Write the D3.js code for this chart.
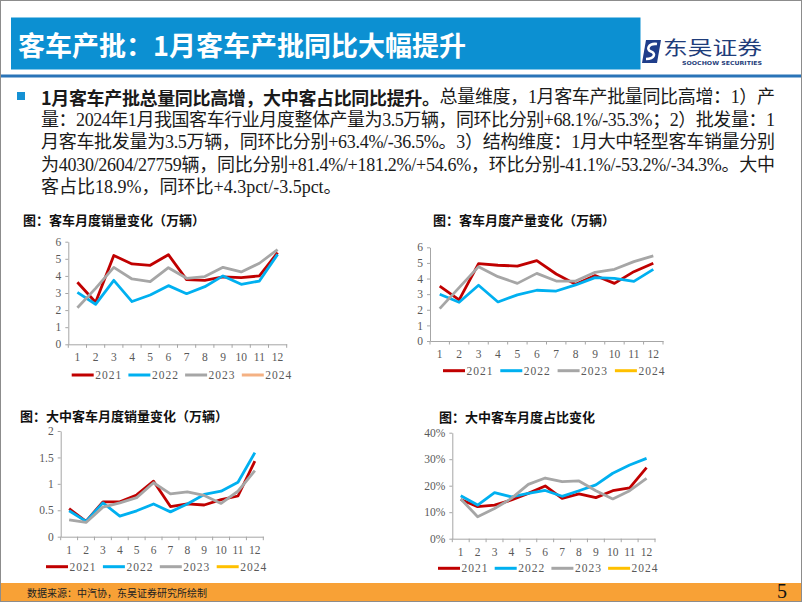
<!DOCTYPE html>
<html><head><meta charset="utf-8">
<script src="https://cdn.jsdelivr.net/npm/d3@7"></script>
<style>body{margin:0;background:#fff}svg{display:block}</style>
</head><body>
<svg id="c" width="802" height="602"></svg>
<script>
// ---------- data ----------
const months = ["1","2","3","4","5","6","7","8","9","10","11","12"];
const years = ["2021","2022","2023","2024"];

const sales2021 = [3.63,2.46,5.19,4.70,4.62,5.24,3.78,3.74,3.94,3.90,4.00,5.36];
const sales2022 = [3.04,2.34,3.74,2.50,2.88,3.43,2.96,3.37,4.00,3.51,3.70,5.26];
const sales2023 = [2.14,3.27,4.50,3.82,3.66,4.48,3.86,3.96,4.50,4.23,4.74,5.54];
const sales2024 = [3.5];

const prod2021 = [3.52,2.63,4.95,4.85,4.80,5.15,4.29,3.63,4.19,3.69,4.44,4.98];
const prod2022 = [2.99,2.48,3.57,2.50,2.95,3.25,3.20,3.59,4.06,4.01,3.82,4.59];
const prod2023 = [2.07,3.42,4.76,4.12,3.69,4.33,3.84,3.84,4.40,4.59,5.08,5.45];
const prod2024 = [3.5];

const lm2021 = [0.53,0.29,0.66,0.66,0.79,1.05,0.57,0.62,0.60,0.70,0.77,1.43];
const lm2022 = [0.49,0.29,0.64,0.39,0.49,0.62,0.47,0.62,0.80,0.86,1.03,1.59];
const lm2023 = [0.32,0.27,0.56,0.64,0.74,1.02,0.81,0.85,0.78,0.63,0.86,1.25];
const lm2024 = [0.66];

const share2021 = [14.8,12.1,12.7,14.6,17.1,19.9,15.2,16.9,15.5,18.1,19.2,26.8];
const share2022 = [16.2,12.7,17.4,15.8,17.1,18.2,16.0,18.1,20.3,24.7,27.8,30.3];
const share2023 = [15.0,8.3,11.4,15.2,20.5,22.9,21.5,21.8,18.1,15.0,18.1,22.8];
const share2024 = [18.9];

const ticksVol = [0,1,2,3,4,5,6];
const ticksLM = [0,0.5,1,1.5,2];
const ticksShare = [0,10,20,30,40];

const pageTitle = "客车产批：1月客车产批同比大幅提升";
const paraLines = [
  [["1月客车产批总量同比高增，大中客占比同比提升。", true], ["总量维度，1月客车产批量同比高增：1）产", false]],
  [["量：2024年1月我国客车行业月度整体产量为3.5万辆，同环比分别+68.1%/-35.3%；2）批发量：1", false]],
  [["月客车批发量为3.5万辆，同环比分别+63.4%/-36.5%。3）结构维度：1月大中轻型客车销量分别", false]],
  [["为4030/2604/27759辆，同比分别+81.4%/+181.2%/+54.6%，环比分别-41.1%/-53.2%/-34.3%。大中", false]],
  [["客占比18.9%，同环比+4.3pct/-3.5pct。", false]]
];
const source = "数据来源：中汽协，东吴证券研究所绘制";

// ---------- drawing ----------
const svg = d3.select("#c");
const CJK = "'Noto Sans CJK SC', sans-serif";
const MIX = "'Liberation Serif', 'Noto Sans CJK SC', serif";
const SERIF = "'Liberation Serif', 'Times New Roman', serif";

// frame
svg.append("rect").attr("x",0.5).attr("y",0.5).attr("width",801).attr("height",601)
  .attr("fill","#fff").attr("stroke","#8c8c8c").attr("stroke-width",1);

// header banner
svg.append("rect").attr("x",11).attr("y",17.5).attr("width",629.5).attr("height",52).attr("fill","#0c90d2");
svg.append("text").attr("x",18).attr("y",44).attr("dominant-baseline","central")
  .attr("font-family",CJK).attr("font-weight","bold").attr("font-size",27).attr("fill","#fff")
  .text(pageTitle);
svg.append("rect").attr("x",1).attr("y",74.5).attr("width",800).attr("height",3).attr("fill","#2a74b8");

// logo
const logo = svg.append("g");
logo.append("path").attr("d","M646,40 L661,40 L657,63 L642,63 Z").attr("fill","#1f3d8a");
logo.append("path").attr("d","M657,44 C648,43 646,50 651,51.5 C656,53 655,59 646,59")
  .attr("fill","none").attr("stroke","#fff").attr("stroke-width",2.6);
logo.append("text").attr("x",663).attr("y",46).attr("dominant-baseline","central")
  .attr("font-family",CJK).attr("font-size",19).attr("fill","#1f3d7a")
  .attr("textLength",99).attr("lengthAdjust","spacingAndGlyphs").text("东吴证券");
logo.append("text").attr("x",682).attr("y",62.5).attr("dominant-baseline","central")
  .attr("font-family","'DejaVu Sans', sans-serif").attr("font-weight","bold").attr("font-size",5.5)
  .attr("fill","#1f3d7a").attr("textLength",80).attr("lengthAdjust","spacingAndGlyphs")
  .text("SOOCHOW SECURITIES");

// bullet + paragraph
svg.append("rect").attr("x",17).attr("y",92).attr("width",8).attr("height",8).attr("fill","#1591d4");
const lineYs = [97, 119.5, 142, 164.5, 187];
paraLines.forEach((segs,i)=>{
  const t = svg.append("text").attr("x",41).attr("y",lineYs[i]).attr("dominant-baseline","central")
    .attr("font-family",MIX).attr("font-size",18).attr("fill","#1a1a1a");
  if (i < 4) t.attr("textLength",734).attr("lengthAdjust","spacing");
  segs.forEach(([s,b])=>{
    t.append("tspan").attr("font-weight",b?"bold":"normal")
     .attr("font-family", b ? CJK : MIX).text(s);
  });
});

const seriesColors = ["#c00000","#00b0f0","#a6a6a6","#ffc000"];

function drawChart(cfg){
  const g = svg.append("g");
  g.append("text").attr("x",cfg.tx).attr("y",cfg.ty).attr("dominant-baseline","central")
    .attr("font-family",CJK).attr("font-weight","bold").attr("font-size",13).attr("fill","#111")
    .text(cfg.title);
  const x = d3.scaleBand().domain(months).range([cfg.x0,cfg.x1]).padding(0);
  const y = d3.scaleLinear().domain([0,cfg.ymax]).range([cfg.yBot,cfg.yTop]);

  // y axis
  const ya = g.append("g").attr("transform",`translate(${cfg.x0},0)`)
    .call(d3.axisLeft(y).tickValues(cfg.ticks).tickSize(3).tickSizeOuter(0).tickPadding(4).tickFormat(cfg.fmt));
  ya.select(".domain").attr("stroke","#a6a6a6");
  ya.selectAll(".tick line").attr("stroke","#a6a6a6");
  ya.selectAll("text").attr("font-family",SERIF).attr("font-size",11.5).attr("fill","#595959");

  // x axis
  const xa = g.append("g").attr("transform",`translate(0,${cfg.yBot})`)
    .call(d3.axisBottom(x).tickSize(0).tickSizeOuter(0).tickPadding(cfg.labelY-cfg.yBot-4));
  xa.select(".domain").attr("stroke","#a6a6a6");
  xa.selectAll("text").attr("font-family",SERIF).attr("font-size",11.5).attr("fill","#595959");
  const bounds = months.map(m=>x(m)).concat([cfg.x1]);
  g.selectAll(".xt").data(bounds).enter().append("line")
    .attr("x1",d=>d).attr("x2",d=>d).attr("y1",cfg.yBot).attr("y2",cfg.yBot+3.5)
    .attr("stroke","#a6a6a6");

  // lines
  const line = d3.line().x((d,i)=>x(months[i])+x.bandwidth()/2).y(d=>y(d));
  const cols = seriesColors.slice(); cols[3] = cfg.c2024;
  cfg.series.forEach((s,i)=>{
    g.append("path").datum(s).attr("d",line).attr("fill","none")
      .attr("stroke",cols[i]).attr("stroke-width",2.8).attr("stroke-linejoin","round");
  });

  // legend
  years.forEach((yr,i)=>{
    const lx = cfg.lx + i*cfg.lstep;
    g.append("line").attr("x1",lx).attr("x2",lx+22).attr("y1",cfg.legendY).attr("y2",cfg.legendY)
      .attr("stroke",cols[i]).attr("stroke-width",3);
    g.append("text").attr("x",lx+23.5).attr("y",cfg.legendY).attr("dominant-baseline","central")
      .attr("font-family",SERIF).attr("font-size",11.5).attr("letter-spacing",1).attr("fill","#595959")
      .text(yr);
  });
}

drawChart({title:"图：客车月度销量变化（万辆）", tx:23, ty:219.5,
  x0:68.3, x1:286.7, yTop:241.7, yBot:344.3, ymax:6, ticks:ticksVol, fmt:d3.format("d"),
  series:[sales2021,sales2022,sales2023,sales2024], c2024:"#f4b183",
  labelY:357, legendY:375, lx:71.7, lstep:56.7});

drawChart({title:"图：客车月度产量变化（万辆）", tx:433, ty:219,
  x0:430, x1:663, yTop:247.3, yBot:341, ymax:6, ticks:ticksVol, fmt:d3.format("d"),
  series:[prod2021,prod2022,prod2023,prod2024], c2024:"#ffc000",
  labelY:354, legendY:370.7, lx:443, lstep:57.3});

drawChart({title:"图：大中客车月度销量变化（万辆）", tx:20, ty:415,
  x0:60.7, x1:263.3, yTop:431, yBot:536.7, ymax:2, ticks:ticksLM, fmt:d=>String(d),
  series:[lm2021,lm2022,lm2023,lm2024], c2024:"#ffc000",
  labelY:550.3, legendY:566.7, lx:46, lstep:56.9});

drawChart({title:"图：大中客车月度占比变化", tx:439, ty:416.7,
  x0:452.3, x1:655, yTop:432.7, yBot:538.7, ymax:40, ticks:ticksShare, fmt:d=>d+"%",
  series:[share2021,share2022,share2023,share2024], c2024:"#ffc000",
  labelY:552, legendY:568.3, lx:438, lstep:56.7});

// footer
svg.append("rect").attr("x",1).attr("y",583).attr("width",800).attr("height",18).attr("fill","#f8a136");
svg.append("text").attr("x",27).attr("y",592.5).attr("dominant-baseline","central")
  .attr("font-family",CJK).attr("font-size",10.5).attr("fill","#222")
  .attr("textLength",180).attr("lengthAdjust","spacingAndGlyphs").text(source);
svg.append("text").attr("x",777).attr("y",591).attr("dominant-baseline","central")
  .attr("font-family",SERIF).attr("font-size",20).attr("fill","#111").text("5");
</script>
</body></html>
